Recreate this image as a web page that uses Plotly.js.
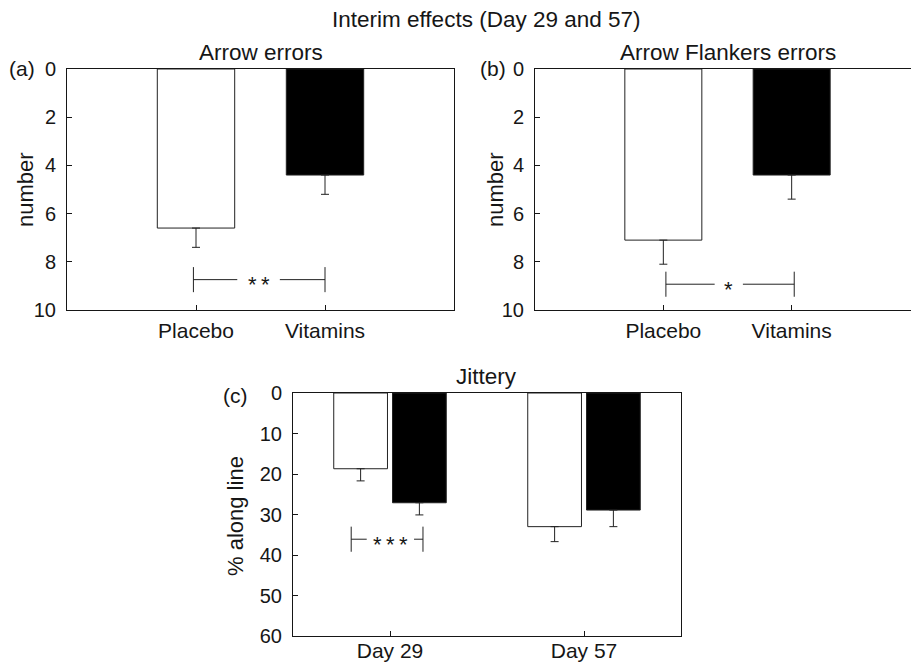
<!DOCTYPE html>
<html><head><meta charset="utf-8">
<script src="https://cdn.plot.ly/plotly-3.0.1.min.js"></script>
<style>
html,body{margin:0;padding:0;overflow:hidden;background:#fff;}
#chart{width:925px;height:666px;}
</style></head><body><div id="chart"></div><script>
// ---- data ----
const categoriesAB = ['Placebo', 'Vitamins'];
const arrowErrors = [6.6, 4.4];
const arrowErrorsSE = [0.8, 0.8];
const flankerErrors = [7.1, 4.4];
const flankerErrorsSE = [1.0, 1.0];
const days = ['Day 29', 'Day 57'];
const jitterPlacebo = [18.7, 33.0];
const jitterPlaceboSE = [3.0, 3.7];
const jitterVitamins = [27.1, 28.9];
const jitterVitaminsSE = [3.0, 4.1];
const yTicksAB = [0, 2, 4, 6, 8, 10];
const yTicksC = [0, 10, 20, 30, 40, 50, 60];
const sigLabels = ['*\u2009*', '*', '*\u2009*\u2009*'];
const sigLevels = [8.74, 8.93, 36.1];

// ---- geometry ----
const W = 925, H = 666;
const fx = p => p / W;
const fy = p => 1 - p / H;
const INK = '#161616';
const FONT = 'Liberation Sans, Arial, sans-serif';

function barTrace(xv, yv, err, color, xa, ya, width, offset) {
  const t = {
    type: 'bar', x: xv, y: yv, width: width, xaxis: xa, yaxis: ya,
    marker: {color: color, line: {color: '#222', width: 1}},
    error_y: {type: 'data', symmetric: false, array: err, arrayminus: err.map(() => 0),
              color: '#222', thickness: 1, width: 4},
    hoverinfo: 'skip', showlegend: false
  };
  if (offset !== undefined) t.offset = offset;
  return t;
}
// significance bracket: ends at x0/x1, horizontal line broken between g0 and g1
function bracket(x0, x1, g0, g1, y, h, xa, ya) {
  return {
    type: 'scatter', mode: 'lines', xaxis: xa, yaxis: ya,
    x: [x0, x0, null, x0, g0, null, g1, x1, null, x1, x1],
    y: [y - h, y + h, null, y, y, null, y, y, null, y - h, y + h],
    line: {color: '#222', width: 1}, hoverinfo: 'skip', showlegend: false
  };
}
const idxAB = categoriesAB.map((_, i) => i);
const idxC = days.map((_, i) => i);

const traces = [
  barTrace(idxAB, arrowErrors, arrowErrorsSE, ['#fff', '#000'], 'x', 'y', 0.6),
  barTrace(idxAB, flankerErrors, flankerErrorsSE, ['#fff', '#000'], 'x2', 'y2', 0.6),
  barTrace(idxC, jitterPlacebo, jitterPlaceboSE, '#fff', 'x3', 'y3', 0.277, -0.29),
  barTrace(idxC, jitterVitamins, jitterVitaminsSE, '#000', 'x3', 'y3', 0.277, 0.013),
  bracket(-0.02, 1.0, 0.32, 0.65, sigLevels[0], 0.52, 'x', 'y'),
  bracket(0.02, 1.02, 0.40, 0.62, sigLevels[1], 0.52, 'x2', 'y2'),
  bracket(-0.2, 0.17, -0.12, 0.124, sigLevels[2], 3.1, 'x3', 'y3')
];

const axBase = {
  showline: true, linecolor: INK, linewidth: 1, mirror: true,
  ticks: 'inside', ticklen: 5, tickcolor: INK, tickwidth: 1,
  showgrid: false, zeroline: false, fixedrange: true, automargin: false
};
const xAxis = (dom, anchor, range, text, standoff) => Object.assign({}, axBase, {
  domain: dom, anchor: anchor, range: range, tickmode: 'array',
  tickvals: text.map((_, i) => i), ticktext: text, ticklabelstandoff: standoff,
  tickfont: {family: FONT, size: 21, color: INK}
});
const yAxis = (dom, anchor, range, vals) => Object.assign({}, axBase, {
  domain: dom, anchor: anchor, range: range, tickmode: 'array', tickvals: vals,
  ticktext: vals.map(String), ticklabelstandoff: 6,
  tickfont: {family: FONT, size: 20, color: INK}
});

function ann(text, xpx, ypx, size, extra) {
  return Object.assign({
    text: text, xref: 'paper', yref: 'paper', x: fx(xpx), y: fy(ypx),
    xanchor: 'center', yanchor: 'middle', showarrow: false,
    font: {family: FONT, size: size, color: INK}
  }, extra || {});
}
function sigAnn(text, xc, y, xa, ya) {
  return {
    text: text, xref: xa, yref: ya, x: xc, y: y, xanchor: 'center', yanchor: 'middle',
    showarrow: false, yshift: -5,
    font: {family: FONT, size: 22, color: INK}
  };
}

const layout = {
  width: W, height: H, margin: {l: 0, r: 0, t: 0, b: 0},
  paper_bgcolor: '#fff', plot_bgcolor: '#fff',
  barmode: 'group', showlegend: false,
  xaxis: xAxis([fx(67), fx(454)], 'y', [-1, 2], categoriesAB, 2),
  yaxis: yAxis([fy(310), fy(69)], 'x', [10, 0], yTicksAB),
  xaxis2: xAxis([fx(535), fx(920)], 'y2', [-1, 2], categoriesAB, 2),
  yaxis2: yAxis([fy(310), fy(69)], 'x2', [10, 0], yTicksAB),
  xaxis3: xAxis([fx(293), fx(681)], 'y3', [-0.5, 1.5], days, -4),
  yaxis3: yAxis([fy(636), fy(393)], 'x3', [60, 0], yTicksC),
  annotations: [
    ann('Interim effects (Day 29 and 57)', 487, 19.5, 22.5),
    ann('Arrow errors', 261, 52, 22.5),
    ann('Arrow Flankers errors', 728, 52, 22.5),
    ann('Jittery', 487, 377, 22.5),
    ann('(a)', 22, 68, 21),
    ann('(b)', 493, 68, 21),
    ann('(c)', 235.5, 395, 21),
    ann('number', 25, 190, 22, {textangle: -90}),
    ann('number', 495, 190, 22, {textangle: -90}),
    ann('% along line', 235, 516, 22, {textangle: -90}),
    sigAnn(sigLabels[0], 0.485, sigLevels[0], 'x', 'y'),
    sigAnn(sigLabels[1], 0.51, sigLevels[1], 'x2', 'y2'),
    sigAnn(sigLabels[2], 0.002, sigLevels[2], 'x3', 'y3')
  ]
};

Plotly.newPlot('chart', traces, layout, {staticPlot: true, displayModeBar: false});
</script></body></html>
